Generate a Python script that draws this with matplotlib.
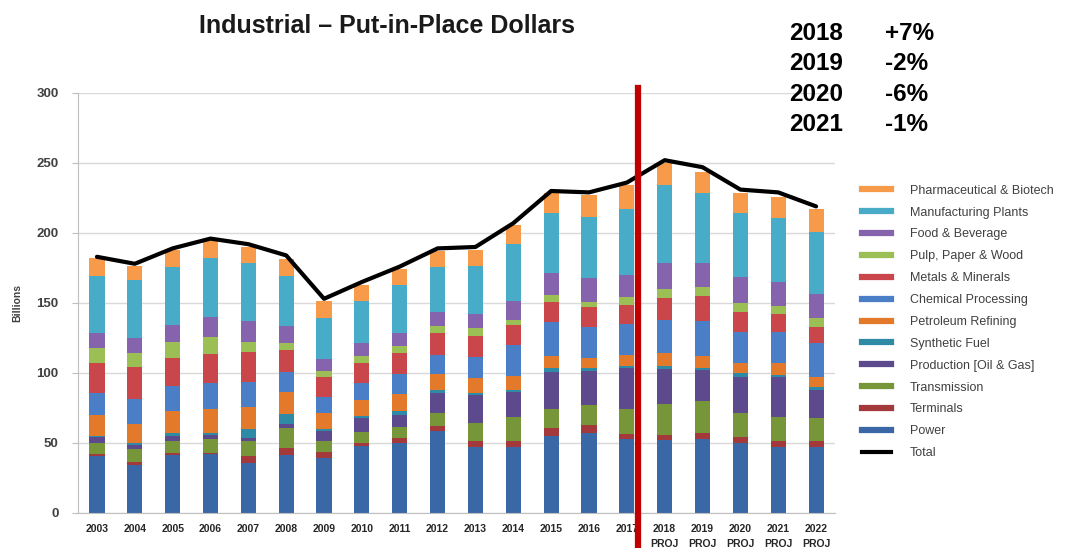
import matplotlib.pyplot as plt
import matplotlib.transforms as mtransforms
from matplotlib.lines import Line2D
import numpy as np

plt.rcParams['font.family'] = ['Liberation Sans', 'DejaVu Sans']

# Categories
years = [str(y) for y in range(2003, 2023)]
proj_years = ['2018', '2019', '2020', '2021', '2022']
tick_labels = [y + '\nPROJ' if y in proj_years else y for y in years]

# Series values (billions), bottom of the stack first
power = [40.7, 34.3, 41.4, 42.1, 35.5, 41.4, 39.0, 47.9, 49.8, 58.8,
         46.9, 46.9, 55.0, 56.9, 52.6, 52.1, 52.6, 50.2, 47.4, 47.4]
terminals = [1.4, 2.4, 1.2, 1.0, 5.2, 4.8, 4.8, 2.3, 3.5, 3.3,
             4.8, 4.8, 5.5, 6.0, 3.8, 3.6, 4.3, 3.8, 4.3, 4.3]
transmission = [8.1, 8.8, 9.1, 9.5, 11.0, 14.3, 7.9, 7.9, 8.4, 9.6,
                12.8, 16.6, 13.5, 14.2, 17.6, 22.2, 23.3, 17.2, 17.1, 15.9]
production = [3.8, 3.1, 3.3, 3.1, 2.1, 3.1, 7.1, 9.5, 8.3, 14.3,
              19.8, 18.4, 27.0, 24.6, 29.3, 24.7, 21.9, 26.2, 28.1, 20.3]
synthetic = [1.0, 1.2, 1.9, 1.7, 6.0, 7.1, 1.0, 1.7, 3.1, 1.9,
             1.2, 1.2, 2.3, 1.6, 1.7, 2.4, 1.2, 2.8, 1.7, 1.9]
petroleum = [15.0, 13.8, 16.2, 16.6, 15.7, 16.0, 11.9, 11.4, 11.9, 11.4,
             10.7, 10.0, 8.8, 7.2, 7.9, 9.0, 8.8, 6.7, 8.3, 7.6]
chemical = [16.0, 17.6, 17.6, 19.1, 18.3, 14.3, 11.4, 11.9, 14.3, 13.6,
            15.5, 22.1, 24.6, 22.6, 22.1, 23.9, 25.3, 22.6, 22.6, 23.8]
metals = [21.4, 23.3, 19.8, 20.2, 21.4, 15.4, 14.3, 14.3, 15.2, 15.9,
          14.7, 14.3, 14.3, 13.8, 13.6, 15.4, 17.6, 14.3, 12.6, 11.9]
pulp = [10.2, 9.5, 11.9, 12.7, 7.2, 5.3, 4.3, 5.2, 4.8, 4.8,
        5.5, 3.6, 4.7, 4.1, 5.9, 6.5, 6.2, 6.4, 5.8, 5.9]
food = [11.2, 10.8, 11.9, 13.8, 15.0, 11.9, 8.1, 9.1, 9.0, 10.2,
        10.2, 13.8, 16.0, 16.6, 15.5, 19.0, 17.6, 18.1, 17.3, 17.4]
manufacturing = [40.5, 41.6, 41.7, 42.1, 41.4, 35.7, 29.2, 30.5, 34.6, 32.2,
                 34.3, 40.4, 42.3, 44.1, 46.9, 55.5, 49.5, 45.7, 45.3, 44.6]
pharma = [12.6, 10.0, 11.9, 13.1, 11.0, 11.9, 12.7, 11.2, 11.1, 11.4,
          11.5, 13.6, 14.3, 15.4, 17.4, 15.5, 15.5, 14.8, 15.5, 15.9]
total = [183, 178, 189, 196, 192, 184, 153, 165, 176, 189,
         190, 207, 230, 229, 236, 252, 247, 231, 229, 219]

series_names = ['Power', 'Terminals', 'Transmission', 'Production [Oil & Gas]',
                'Synthetic Fuel', 'Petroleum Refining', 'Chemical Processing',
                'Metals & Minerals', 'Pulp, Paper & Wood', 'Food & Beverage',
                'Manufacturing Plants', 'Pharmaceutical & Biotech']
series_values = [power, terminals, transmission, production, synthetic, petroleum,
                 chemical, metals, pulp, food, manufacturing, pharma]
colors = ['#3a67a6', '#a3393a', '#77963a', '#5d4a8c', '#2f8aa6', '#e3792a',
          '#4a7ec6', '#c9474a', '#9cbf55', '#8663ad', '#48acc9', '#f79b4b']

growth_years = ['2018', '2019', '2020', '2021']
growth_pct = ['+7%', '-2%', '-6%', '-1%']

fig = plt.figure(figsize=(10.73, 5.48), dpi=100)
ax = fig.add_axes([0.0727, 0.0639, 0.7055, 0.7664])

x = np.arange(len(years))
bottom = np.zeros(len(years))
for name, vals, col in zip(series_names, series_values, colors):
    ax.bar(x, vals, width=0.4, bottom=bottom, color=col, label=name, zorder=2)
    bottom += np.array(vals)

ax.plot(x, total, color='black', lw=3, zorder=3, solid_capstyle='round')

ax.set_xlim(-0.5, len(years) - 0.5)
ax.set_ylim(0, 300)
ax.set_yticks(range(0, 301, 50))
ax.yaxis.grid(True, color='#d9d9d9', lw=1, zorder=0)
ax.set_axisbelow(True)
for s in ['top', 'right']:
    ax.spines[s].set_visible(False)
ax.spines['left'].set_color('#bfbfbf')
ax.spines['bottom'].set_color('#bfbfbf')
ax.tick_params(axis='y', colors='#bfbfbf', labelcolor='#404040', labelsize=9.5,
               length=4, pad=10)
ax.tick_params(axis='x', length=0, labelcolor='#262626', labelsize=7.5, pad=8)
ax.set_xticks(x)
ax.set_xticklabels(tick_labels, fontweight='bold', linespacing=1.6, va='top')
for lbl in ax.get_yticklabels():
    lbl.set_fontweight('bold')
ax.set_ylabel('Billions', fontsize=7.5, fontweight='bold', color='#404040', labelpad=10)

# red divider between actuals and projections
trans = mtransforms.blended_transform_factory(ax.transData, ax.transAxes)
ax.plot([14.3, 14.3], [-0.085, 1.012], transform=trans, color='#c00000', lw=4.5,
        clip_on=False, zorder=5)

fig.text(0.361, 0.953, 'Industrial \u2013 Put-in-Place Dollars', ha='center', va='center',
         fontsize=18, fontweight='bold', color='#1a1a1a')

for i, (yr, pct) in enumerate(zip(growth_years, growth_pct)):
    yy = 1 - (33 + i * 30.5) / 548
    fig.text(0.735, yy, yr, fontsize=17.5, fontweight='bold', va='center', ha='left')
    fig.text(0.825, yy, pct, fontsize=17.5, fontweight='bold', va='center', ha='left')

handles = [Line2D([0], [0], color=c, lw=4.5) for c in colors[::-1]]
labels = series_names[::-1]
handles.append(Line2D([0], [0], color='black', lw=3))
labels.append('Total')
fig.legend(handles, labels, loc='upper left', bbox_to_anchor=(0.799, 0.672),
           frameon=False, fontsize=9, labelcolor='#404040', handlelength=2.3,
           handletextpad=1.5, labelspacing=0.79, borderaxespad=0)

fig.savefig('out.png', dpi=100)
